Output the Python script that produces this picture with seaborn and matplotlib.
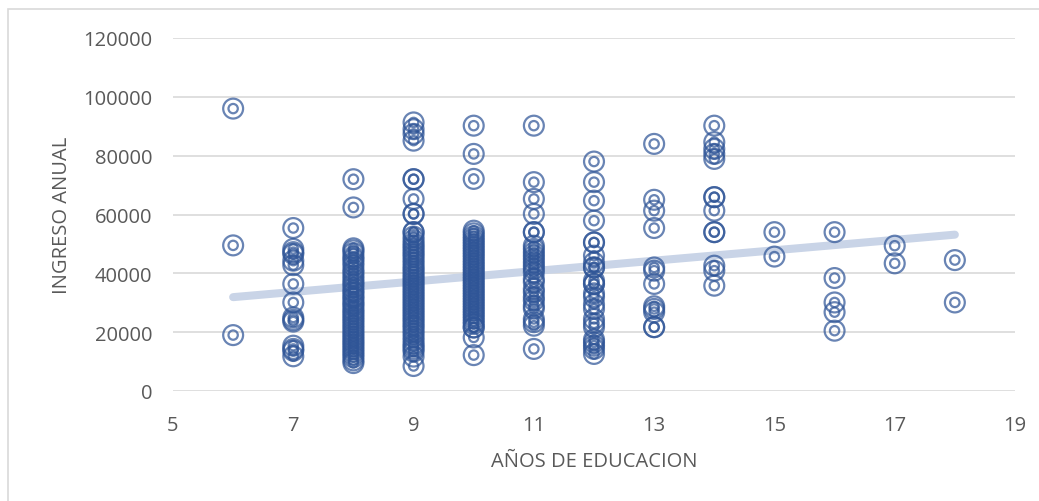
import numpy as np
import pandas as pd
import matplotlib
matplotlib.use("Agg")
import matplotlib.pyplot as plt
import seaborn as sns
from matplotlib.patches import Rectangle

# years of education and annual income, one list per education level
ing_6 = [96000, 49500, 19000]
ing_7 = [55400, 48300, 47200, 46600, 44300, 42800, 36400, 30100, 25000, 24200, 23600,
         15400, 14300, 13700, 11800]
ing_8 = [72000, 62400, 48500, 47800, 46900, 45600, 44800, 43700, 42600, 41200, 40300,
         39200, 38100, 37000, 36200, 35100, 34000, 33300, 32200, 31500, 30400, 29600,
         28800, 27700, 26900, 26000, 25100, 24200, 23300, 22300, 21400, 20400, 19500,
         18600, 17700, 16800, 16000, 15100, 14200, 13300, 12400, 11500, 10400, 9500]
ing_9 = [91300, 89000, 87400, 85100, 72000, 72000, 65300, 60200, 60200, 54000, 54000,
         52500, 51300, 50200, 49300, 48400, 47400, 46500, 45600, 44500, 43500, 42400,
         41500, 40600, 39600, 38700, 37800, 36900, 36000, 35100, 34200, 33300, 32400,
         31500, 30600, 29700, 28800, 27900, 27000, 26100, 25200, 24300, 23400, 22400,
         21600, 20500, 19500, 18300, 17200, 16000, 15200, 14300, 13400, 11700, 8500]
ing_10 = [90200, 80600, 72100, 54500, 53600, 52600, 51700, 50800, 49900, 49000, 48100,
          47200, 46300, 45400, 44400, 43500, 42600, 41700, 40800, 39900, 39000, 38100,
          37200, 36300, 35400, 34500, 33600, 32700, 31800, 30900, 30000, 29100, 28200,
          27300, 26400, 25500, 24600, 23600, 22800, 21600, 21600, 18200, 12200]
ing_11 = [90200, 71000, 65300, 60200, 54000, 54000, 49400, 48300, 47100, 46000, 44900,
          43700, 42600, 41500, 40300, 38100, 37000, 34700, 33600, 31900, 30800, 29000,
          28000, 24500, 23400, 22200, 14300]
ing_12 = [78000, 71000, 64700, 57900, 50500, 50500, 46000, 43600, 42000, 42000, 37500,
          36400, 36400, 33200, 31900, 29500, 27900, 24500, 23000, 21700, 17500, 16500,
          15400, 14300, 12600]
ing_13 = [84000, 65000, 61300, 55400, 42000, 40900, 36400, 28800, 27900, 26800, 21700,
          21700]
ing_14 = [90200, 84600, 82300, 80600, 78900, 65900, 65900, 61300, 54000, 54000, 42600,
          40900, 35800]
ing_15 = [54000, 45700]
ing_16 = [54000, 38400, 30100, 26800, 20500]
ing_17 = [49400, 43400]
ing_18 = [44500, 30100]

grupos = {6: ing_6, 7: ing_7, 8: ing_8, 9: ing_9, 10: ing_10, 11: ing_11, 12: ing_12,
          13: ing_13, 14: ing_14, 15: ing_15, 16: ing_16, 17: ing_17, 18: ing_18}
df = pd.DataFrame([(k, v) for k, vals in grupos.items() for v in vals],
                  columns=["educ", "ingreso"])

W, H = 1039, 502
fig = plt.figure(figsize=(W / 100, H / 100), dpi=100)
ax = fig.add_axes([173 / W, 1 - 392 / H, (1015 - 173) / W, (392 - 39) / H])

azul = "#2F5597"
# trend line first, under the markers
sns.regplot(data=df, x="educ", y="ingreso", scatter=False, ci=None, ax=ax,
            line_kws=dict(color="#C9D4E7", lw=5.8, solid_capstyle="round", zorder=1))
# double circle marker: outer ring + inner ring
sns.scatterplot(data=df, x="educ", y="ingreso", ax=ax, marker="o", s=205,
                facecolors="none", edgecolor=azul, linewidth=1.6, alpha=0.72, zorder=3)
sns.scatterplot(data=df, x="educ", y="ingreso", ax=ax, marker="o", s=45,
                facecolors="none", edgecolor=azul, linewidth=1.6, alpha=0.72, zorder=3)

ax.set_xlim(5, 19)
ax.set_ylim(0, 120000)
ax.set_xticks(range(5, 20, 2))
ax.set_yticks(range(0, 120001, 20000))
ax.grid(axis="y", color="#D9D9D9", lw=1.2)
ax.set_axisbelow(True)
for s in ax.spines.values():
    s.set_visible(False)
ax.tick_params(length=0, labelsize=14.5, labelcolor="#595959")
ax.tick_params(axis="y", pad=15)
ax.tick_params(axis="x", pad=17)
for t in ax.get_xticklabels() + ax.get_yticklabels():
    t.set_fontfamily("Open Sans")
ax.set_xlabel("AÑOS DE EDUCACION", fontsize=14.5, color="#595959",
              family="Open Sans", labelpad=12)
ax.set_ylabel("INGRESO ANUAL", fontsize=14.5, color="#595959",
              family="Open Sans", labelpad=8)

# light frame around the chart area (open on the right)
fig.patches.append(Rectangle((8 / W, -0.05), 1.1, 1.05 - 10 / H,
                             transform=fig.transFigure, fill=False,
                             edgecolor="#D9D9D9", lw=1.2))

fig.savefig("out.png", dpi=100)
